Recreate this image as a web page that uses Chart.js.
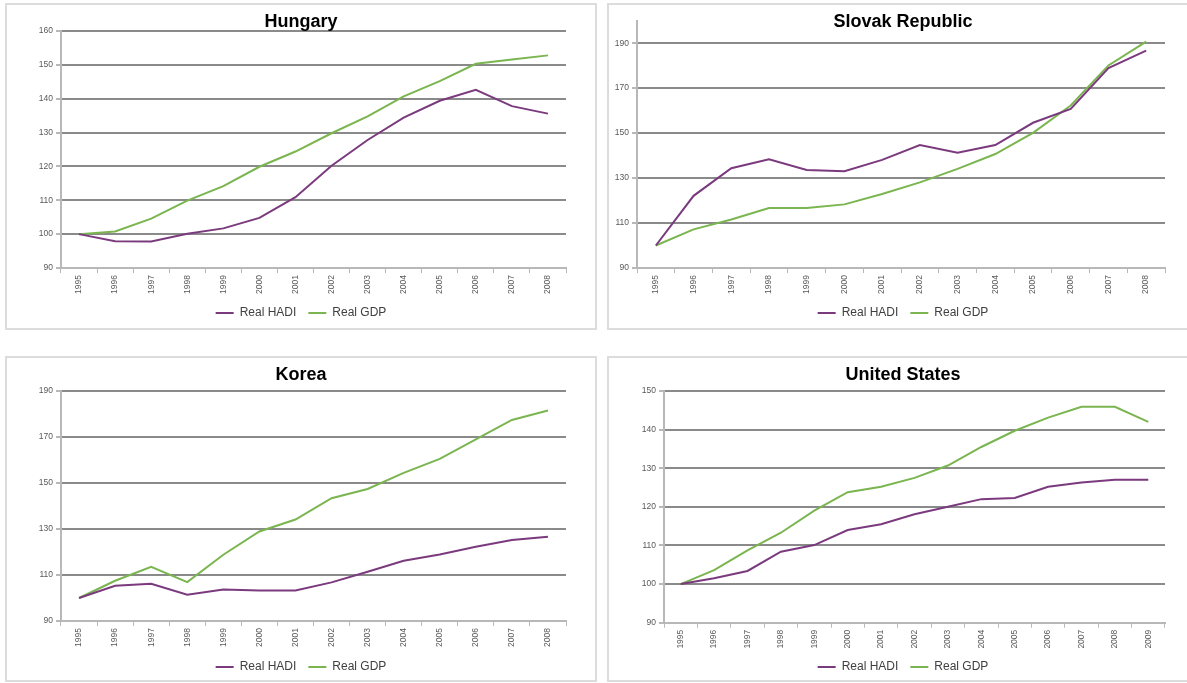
<!DOCTYPE html>
<html>
<head>
<meta charset="utf-8">
<script src="https://cdn.jsdelivr.net/npm/chart.js@4.4.1/dist/chart.umd.min.js"></script>
<style>
html, body { margin: 0; padding: 0; background: #fff; overflow: hidden; width: 1187px; height: 683px; }
.panel { position: absolute; width: 592px; box-sizing: border-box; border: 2px solid #dcdcdc; background: #fff; }
.panel canvas { display: block; }
#p1 { left: 5px; top: 3px; height: 327px; }
#p2 { left: 607px; top: 3px; height: 327px; }
#p3 { left: 5px; top: 356px; height: 326px; }
#p4 { left: 607px; top: 356px; height: 326px; }
</style>
</head>
<body>
<div class="panel" id="p1"><canvas id="hungary" width="588" height="323"></canvas></div>
<div class="panel" id="p2"><canvas id="slovak" width="588" height="323"></canvas></div>
<div class="panel" id="p3"><canvas id="korea" width="588" height="322"></canvas></div>
<div class="panel" id="p4"><canvas id="us" width="588" height="322"></canvas></div>

<script>
// years on the x axis
var years = ['1995', '1996', '1997', '1998', '1999', '2000', '2001', '2002', '2003', '2004', '2005', '2006', '2007', '2008'];
var yearsUS = ['1995', '1996', '1997', '1998', '1999', '2000', '2001', '2002', '2003', '2004', '2005', '2006', '2007', '2008', '2009'];

// index, 1995 = 100
var hungaryHadi = [100, 97.9, 97.8, 100.1, 101.7, 104.8, 110.9, 120.2, 127.8, 134.4, 139.4, 142.6, 137.8, 135.6];
var hungaryGdp = [100, 100.8, 104.6, 109.9, 114.2, 119.9, 124.4, 129.8, 134.8, 140.7, 145.2, 150.3, 151.6, 152.8];

var slovakHadi = [100, 122.1, 134.4, 138.4, 133.6, 133, 138.1, 144.7, 141.3, 144.7, 154.6, 160.8, 178.9, 186.7];
var slovakGdp = [100, 107.2, 111.6, 116.7, 116.7, 118.3, 122.9, 128.1, 134.1, 140.7, 150.1, 162.3, 180.1, 190.7];

var koreaHadi = [100, 105.3, 106.2, 101.4, 103.7, 103.3, 103.3, 106.8, 111.4, 116.2, 118.9, 122.3, 125.2, 126.6];
var koreaGdp = [100, 107.5, 113.6, 106.9, 118.8, 128.9, 134.1, 143.4, 147.4, 154.4, 160.5, 169, 177.4, 181.5];

var usHadi = [100, 101.5, 103.4, 108.4, 110.1, 114, 115.5, 118.1, 120, 122, 122.3, 125.2, 126.3, 127, 127];
var usGdp = [100, 103.6, 108.7, 113.3, 119, 123.8, 125.2, 127.5, 130.7, 135.5, 139.7, 143.1, 145.9, 145.9, 142];

// y tick labels of each panel
var hungaryTicks = [90, 100, 110, 120, 130, 140, 150, 160];
var slovakTicks = [90, 110, 130, 150, 170, 190];
var koreaTicks = [90, 110, 130, 150, 170, 190];
var usTicks = [90, 100, 110, 120, 130, 140, 150];

var seriesNames = ['Real HADI', 'Real GDP'];

var hadiColor = '#7a3a7d';
var gdpColor = '#7ab550';
var gridColor = '#8a8a8a';
var axisColor = '#b8b8b8';

Chart.defaults.font.family = "'Liberation Sans', Arial, sans-serif";
Chart.defaults.color = '#595959';

function makeLineChart(id, title, labels, hadi, gdp, yTicks, yMax, box) {

    var yMin = yTicks[0];

    var config = {
        type: 'line',
        data: {
            labels: labels,
            datasets: [{
                label: seriesNames[0],
                data: hadi,
                borderColor: hadiColor,
                backgroundColor: hadiColor,
                borderWidth: 2,
                pointRadius: 0,
                tension: 0,
                fill: false
            }, {
                label: seriesNames[1],
                data: gdp,
                borderColor: gdpColor,
                backgroundColor: gdpColor,
                borderWidth: 2,
                pointRadius: 0,
                tension: 0,
                fill: false
            }]
        },
        options: {
            responsive: false,
            animation: false,
            events: [],
            layout: {
                padding: { left: 0, right: 0, top: 0, bottom: box.bottom }
            },
            plugins: {
                title: {
                    display: true,
                    text: title,
                    color: '#000',
                    font: { size: 18, weight: 'bold' },
                    padding: { top: 17 - 10.8, bottom: box.top - 17 - 10.8 }
                },
                legend: {
                    position: 'bottom',
                    labels: {
                        usePointStyle: true,
                        pointStyle: 'line',
                        pointStyleWidth: 18,
                        padding: 12,
                        color: '#404040',
                        font: { size: 12 }
                    }
                },
                tooltip: { enabled: false }
            },
            scales: {
                x: {
                    offset: true,
                    grid: {
                        display: true,
                        drawOnChartArea: false,
                        offset: true,
                        tickLength: 5,
                        tickColor: axisColor
                    },
                    border: { color: axisColor, width: 2 },
                    ticks: {
                        autoSkip: false,
                        minRotation: 90,
                        maxRotation: 90,
                        padding: 2,
                        font: { size: 8.5 }
                    },
                    afterFit: function (s) { s.height = box.xh; }
                },
                y: {
                    min: yMin,
                    max: yMax,
                    ticks: {
                        padding: 3,
                        font: { size: 8.5 }
                    },
                    afterBuildTicks: function (s) {
                        s.ticks = yTicks.map(function (v) { return { value: v }; });
                    },
                    grid: {
                        color: function (c) { return c.tick && c.tick.value === yMin ? 'rgba(0,0,0,0)' : gridColor; },
                        lineWidth: 2,
                        tickLength: 5,
                        tickColor: axisColor
                    },
                    border: { color: axisColor, width: 2 },
                    afterFit: function (s) { s.width = box.left; }
                },
                pad: {
                    type: 'linear',
                    position: 'right',
                    display: true,
                    grid: { display: false },
                    border: { display: false },
                    ticks: { display: false },
                    afterFit: function (s) { s.width = box.right; }
                }
            }
        }
    };

    var ctx = document.getElementById(id).getContext('2d');
    return new Chart(ctx, config);
}

window.hungaryChart = makeLineChart('hungary', 'Hungary', years, hungaryHadi, hungaryGdp, hungaryTicks, 160,
    { left: 54, right: 29, top: 26, xh: 27, bottom: -1 });

window.slovakChart = makeLineChart('slovak', 'Slovak Republic', years, slovakHadi, slovakGdp, slovakTicks, 200,
    { left: 28, right: 32, top: 15.7, xh: 27, bottom: -1 });

window.koreaChart = makeLineChart('korea', 'Korea', years, koreaHadi, koreaGdp, koreaTicks, 190,
    { left: 54, right: 29, top: 33, xh: 28, bottom: -3 });

window.usChart = makeLineChart('us', 'United States', yearsUS, usHadi, usGdp, usTicks, 150,
    { left: 55, right: 32, top: 33, xh: 26.3, bottom: -3 });
</script>
</body>
</html>
